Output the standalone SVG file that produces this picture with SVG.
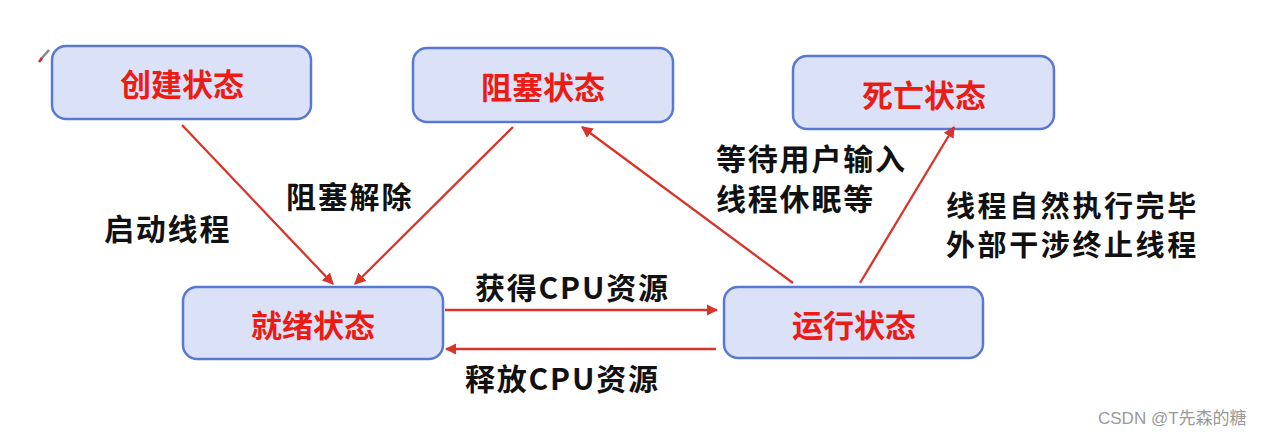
<svg xmlns="http://www.w3.org/2000/svg" width="1273" height="436" viewBox="0 0 1273 436">
<defs>
<marker id="ah" viewBox="0 0 10 10" refX="9" refY="5" markerWidth="5" markerHeight="5" orient="auto" markerUnits="strokeWidth">
<path d="M0,0 L10,5 L0,10 z" fill="#d8342a"/>
</marker>
<style>
.box{fill:#dbe2f8;stroke:#5878d3;stroke-width:2.5}
.nt{font-family:"Noto Sans CJK SC","Liberation Sans",sans-serif;font-weight:bold;font-size:31px;fill:#ec1c14;text-anchor:middle;dominant-baseline:central}
.lt{font-family:"Noto Sans CJK SC","Liberation Sans",sans-serif;font-weight:bold;font-size:30px;letter-spacing:1.8px;fill:#111;dominant-baseline:central}
.sm{font-size:29px;letter-spacing:2.6px}
.cn{fill:none;stroke:#d8342a;stroke-width:2.3;marker-end:url(#ah)}
</style>
</defs>
<rect width="1273" height="436" fill="#fff"/>
<g id="pencil">
<line x1="49" y1="50" x2="41" y2="59" stroke="#888" stroke-width="2.5"/>
<line x1="42" y1="58" x2="39" y2="62" stroke="#e02020" stroke-width="2.5"/>
</g>
<g id="n-create"><rect class="box" x="52" y="46" width="259" height="73" rx="14"/><text class="nt" x="182" y="82">创建状态</text></g>
<g id="n-blocked"><rect class="box" x="413" y="48" width="260" height="74" rx="14"/><text class="nt" x="543" y="85">阻塞状态</text></g>
<g id="n-dead"><rect class="box" x="793" y="56" width="261" height="73" rx="14"/><text class="nt" x="924" y="93">死亡状态</text></g>
<g id="n-ready"><rect class="box" x="183" y="287" width="260" height="72" rx="14"/><text class="nt" x="313" y="323">就绪状态</text></g>
<g id="n-running"><rect class="box" x="724" y="287" width="259" height="71" rx="14"/><text class="nt" x="854" y="323">运行状态</text></g>
<g id="connectors">
<line class="cn" x1="182" y1="125" x2="333" y2="284"/>
<line class="cn" x1="513" y1="127" x2="355" y2="284"/>
<line class="cn" x1="445" y1="310" x2="717" y2="310"/>
<line class="cn" x1="716" y1="349" x2="446" y2="349"/>
<line class="cn" x1="793" y1="283" x2="582" y2="127"/>
<line class="cn" x1="860" y1="283" x2="954" y2="127"/>
</g>
<g id="labels">
<text class="lt" x="104" y="227">启动线程</text>
<text class="lt" x="286" y="195">阻塞解除</text>
<text class="lt" x="475" y="286">获得CPU资源</text>
<text class="lt" x="465" y="377">释放CPU资源</text>
<text class="lt" x="716" y="157"><tspan x="716" y="157">等待用户输入</tspan><tspan x="716" y="197">线程休眠等</tspan></text>
<text class="lt sm" x="946" y="204"><tspan x="946" y="204">线程自然执行完毕</tspan><tspan x="946" y="243">外部干涉终止线程</tspan></text>
</g>
<text x="1098" y="418" font-family="'Liberation Sans','Noto Sans CJK SC',sans-serif" font-size="17" fill="#999" dominant-baseline="central">CSDN @T先森的糖</text>
</svg>
